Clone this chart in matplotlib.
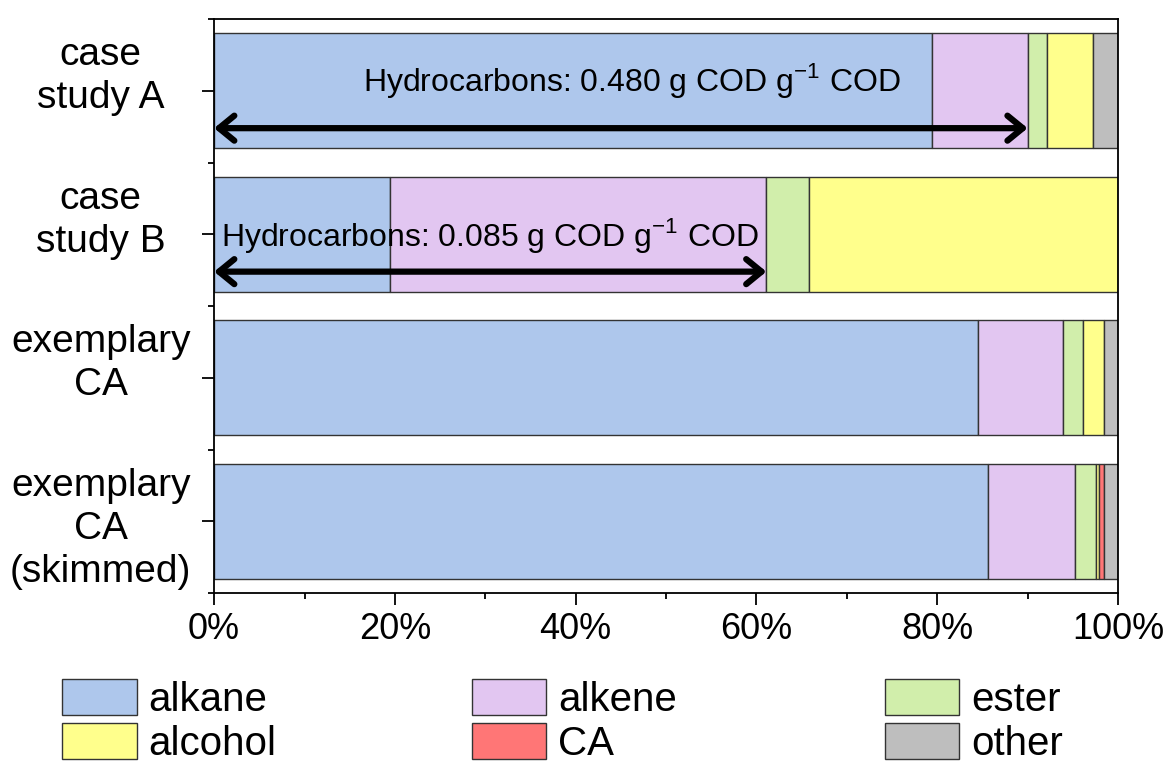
import numpy as np
import matplotlib.pyplot as plt
from matplotlib.patches import Patch
from matplotlib.ticker import MultipleLocator, PercentFormatter

plt.rcParams["font.family"] = ["Liberation Sans", "DejaVu Sans"]
plt.rcParams["mathtext.fontset"] = "custom"
plt.rcParams["mathtext.rm"] = "Liberation Sans"

# Composition of each sample (% of COD)
samples = ["case\nstudy A\n", "case\nstudy B\n", "exemplary\nCA\n", "exemplary\nCA\n(skimmed)"]
alkane = [79.4, 19.5, 84.5, 85.6]
alkene = [10.6, 41.6, 9.4, 9.6]
ester = [2.1, 4.7, 2.2, 2.4]
alcohol = [5.1, 34.2, 2.3, 0.3]
ca = [0.0, 0.0, 0.0, 0.5]
other = [2.8, 0.0, 1.6, 1.6]

groups = ["alkane", "alkene", "ester", "alcohol", "CA", "other"]
colors = ["#aec7ec", "#e2c6f1", "#d1eeab", "#ffff8c", "#ff7676", "#bebebe"]

# hydrocarbon annotations
hc_labels = ["Hydrocarbons: 0.480 g COD g$^{\\mathrm{-1}}$ COD",
             "Hydrocarbons: 0.085 g COD g$^{\\mathrm{-1}}$ COD"]
hc_text_x = [46.2, 30.5]
hc_text_y = [-0.07, 0.01]

fig = plt.figure(figsize=(11.7, 7.65), dpi=100)
ax = fig.add_axes([0.183, 0.2248, 0.7726, 0.7502])

y = np.arange(len(samples))
series = [alkane, alkene, ester, alcohol, ca, other]
left = np.zeros(len(samples))
for vals, name, c in zip(series, groups, colors):
    vals = np.array(vals)
    mask = vals > 0
    ax.barh(y[mask], vals[mask], left=left[mask], height=0.8, color=c,
            edgecolor="#333333", linewidth=1.0, label=name)
    left += vals

# arrows spanning the hydrocarbon fraction (alkane + alkene)
for i, lab in enumerate(hc_labels):
    hc = alkane[i] + alkene[i]
    ax.annotate("", xy=(hc, y[i] + 0.26), xytext=(0, y[i] + 0.26),
                arrowprops=dict(arrowstyle="<->, head_length=0.55, head_width=0.45",
                                lw=4.5, color="black", shrinkA=0, shrinkB=0,
                                mutation_scale=20))
    ax.text(hc_text_x[i], y[i] + hc_text_y[i], lab, ha="center",
            va="center", fontsize=23)

ax.set_xlim(0, 100)
ax.set_ylim(3.5, -0.5)
ax.set_yticks(y)
ax.set_yticklabels(samples, fontsize=28, ha="center", multialignment="center",
                   linespacing=1.25)
ax.yaxis.set_minor_locator(MultipleLocator(1, offset=0.5))
ax.xaxis.set_major_locator(MultipleLocator(20))
ax.xaxis.set_minor_locator(MultipleLocator(10))
ax.xaxis.set_major_formatter(PercentFormatter(decimals=0))
ax.tick_params(axis="both", which="major", length=8.6, width=1.3, direction="out")
ax.tick_params(axis="both", which="minor", length=4.5, width=1.3, direction="out")
ax.tick_params(axis="y", which="major", pad=73)
ax.tick_params(axis="x", which="major", labelsize=26, pad=5)
for sp in ax.spines.values():
    sp.set_linewidth(1.3)

# legend: three columns, two entries each
handles = [Patch(facecolor=c, edgecolor="#333333", linewidth=1.0) for c in colors]
col_x = [0.053, 0.403, 0.756]
for k, cx in enumerate(col_x):
    idx = [k, k + 3]
    fig.legend([handles[j] for j in idx], [groups[j] for j in idx],
               loc="upper left", bbox_to_anchor=(cx, 0.113), ncol=1,
               frameon=False, fontsize=29, handlelength=1.85, handleheight=1.02,
               handletextpad=0.3, labelspacing=0.1,
               borderpad=0, borderaxespad=0)

fig.savefig("out.png", dpi=100)
